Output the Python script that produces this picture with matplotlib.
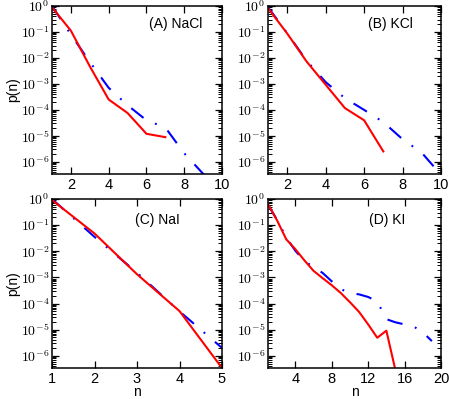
import numpy as np
import matplotlib
matplotlib.use("Agg")
import matplotlib.pyplot as plt
from matplotlib.ticker import LogLocator, FuncFormatter, NullFormatter

plt.rcParams['font.family'] = ['Liberation Sans', 'DejaVu Sans']
plt.rcParams['mathtext.fontset'] = 'cm'

# data: log10 of p(n)
n_a_red = [1, 2, 3, 4, 5, 6, 7]
lp_a_red = [-0.05, -0.95, -2.32, -3.6, -4.12, -4.92, -5.05]
n_a_blue = [1, 2, 3, 4, 5, 6, 7, 8, 9, 10]
lp_a_blue = [0.0, -1.1, -2.15, -3.15, -3.82, -4.4, -4.68, -5.67, -6.46, -7.3]

n_b_red = [1, 2, 3, 4, 5, 6, 7]
lp_b_red = [-0.08, -1.06, -2.13, -3.03, -3.93, -4.4, -5.6]
n_b_blue = [1, 2, 3, 4, 5, 6, 7, 8, 9, 10]
lp_b_blue = [-0.04, -1.05, -2.1, -2.93, -3.55, -4.0, -4.47, -5.13, -5.65, -6.5]

n_c_red = [1, 2, 3, 4, 5]
lp_c_red = [-0.04, -1.32, -2.88, -4.29, -6.47]
n_c_blue = [1, 2, 3, 4, 5]
lp_c_blue = [0.0, -1.45, -2.82, -4.3, -5.7]

n_d_red = [1, 2, 3, 4, 5, 6, 7, 8, 9, 10, 11, 12, 13, 14, 15]
lp_d_red = [-0.2, -0.82, -1.54, -1.92, -2.35, -2.75, -3.03, -3.3, -3.6,
            -3.95, -4.32, -4.8, -5.31, -5.04, -6.56]
n_d_blue = [1, 2, 3, 4, 5, 6, 7, 8, 9, 10, 11, 12, 13, 14, 15, 16, 17, 18, 19]
lp_d_blue = [-0.22, -0.8, -1.47, -1.98, -2.38, -2.6, -2.83, -3.15, -3.45,
             -3.6, -3.65, -3.75, -3.92, -4.6, -4.72, -4.8, -4.88, -5.1, -5.44]

labels = ["(A) NaCl", "(B) KCl", "(C) NaI", "(D) KI"]
xlims = [(1, 10), (1, 10), (1, 5), (1, 20)]
xticks = [[2, 4, 6, 8, 10], [2, 4, 6, 8, 10], [1, 2, 3, 4, 5], [4, 8, 12, 16, 20]]
label_pos = [(0.73, 0.89), (0.705, 0.89), (0.62, 0.875), (0.69, 0.875)]

panels = [
    (n_a_red, lp_a_red, n_a_blue, lp_a_blue),
    (n_b_red, lp_b_red, n_b_blue, lp_b_blue),
    (n_c_red, lp_c_red, n_c_blue, lp_c_blue),
    (n_d_red, lp_d_red, n_d_blue, lp_d_blue),
]

W, H = 449, 399
boxes = [(52, 6, 170, 168), (268, 6, 173, 168),
         (52, 199, 170, 169), (268, 199, 173, 169)]

fig = plt.figure(figsize=(W / 100, H / 100), dpi=100)

for i, (nr, lr, nb, lb) in enumerate(panels):
    x0, y0, w, h = boxes[i]
    ax = fig.add_axes([x0 / W, (H - y0 - h) / H, w / W, h / H])
    ax.plot(nb, 10 ** np.array(lb), color='blue', lw=1.5,
            linestyle=(0, (7.5, 6.2, 0.9, 6.2)))
    ax.plot(nr, 10 ** np.array(lr), color='red', lw=1.5)
    ax.set_yscale('log')
    ax.set_ylim(3.4e-7, 1)
    ax.set_xlim(*xlims[i])
    ax.set_xticks(xticks[i])
    ax.yaxis.set_major_locator(LogLocator(base=10, numticks=20))
    ax.yaxis.set_minor_locator(LogLocator(base=10, subs=np.arange(2, 10), numticks=20))
    ax.yaxis.set_major_formatter(FuncFormatter(lambda v, p: r'$10^{%d}$' % round(np.log10(v))))
    ax.yaxis.set_minor_formatter(NullFormatter())
    ax.tick_params(which='both', direction='in', top=True, right=True)
    ax.tick_params(axis='x', labelsize=10.5, pad=3)
    ax.tick_params(axis='y', labelsize=10, pad=2)
    ax.tick_params(which='major', length=5, width=0.9)
    ax.tick_params(which='minor', length=3, width=0.7)
    for s in ax.spines.values():
        s.set_linewidth(1.1)
    ax.text(label_pos[i][0], label_pos[i][1], labels[i], transform=ax.transAxes,
            ha='center', va='center', fontsize=10)
    if i in (0, 2):
        ax.set_ylabel("p(n)", fontsize=10, labelpad=0)
    if i in (2, 3):
        ax.set_xlabel("n", fontsize=10, labelpad=-1)

fig.savefig("out.png", dpi=100)
